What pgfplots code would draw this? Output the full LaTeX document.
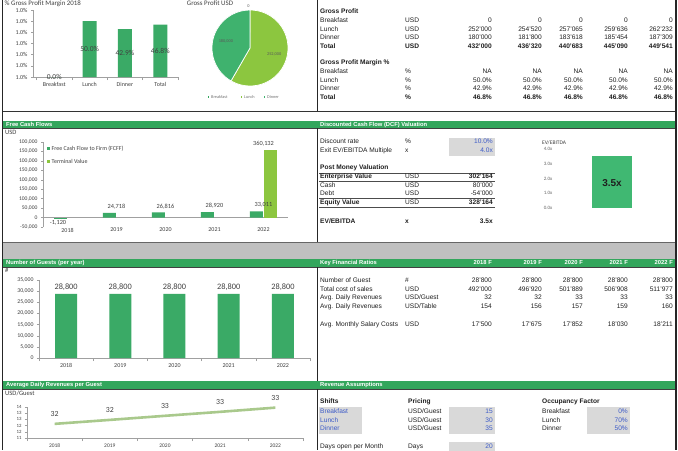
\documentclass[border=0pt]{standalone}
\usepackage{fontspec}
\setmainfont{Liberation Sans}
\newfontfamily\calfont{Carlito}
\usepackage{pgfplots}
\pgfplotsset{compat=1.18}

\definecolor{hdr}{HTML}{33A65C}
\definecolor{barg}{HTML}{3AAA66}
\definecolor{pieg}{HTML}{3FB26E}
\definecolor{lime}{HTML}{8CC63F}
\definecolor{linec}{HTML}{A9C98C}
\definecolor{evbar}{HTML}{40B872}
\definecolor{band}{HTML}{C0C0C0}
\definecolor{boxg}{HTML}{D9D9D9}
\definecolor{inblue}{HTML}{3C5AC8}
\definecolor{txt}{HTML}{1F1F1F}
\definecolor{ctxt}{HTML}{404040}
\definecolor{axc}{HTML}{A0A0A0}

\newcommand\tf{\fontsize{6.6}{7}\selectfont}
\newcommand\cf[1]{\calfont\fontsize{#1}{#1}\selectfont}

\tikzset{
 T/.style={font=\tf, text=txt, inner sep=0pt, text height=4.7pt, text depth=1.3pt},
 L/.style={T, anchor=west},
 R/.style={T, anchor=east},
 B/.style={font=\tf\bfseries},
 I/.style={text=inblue},
 H/.style={font=\fontsize{5.8}{6}\selectfont\bfseries, text=white, inner sep=0pt, text height=4.3pt, text depth=1.2pt},
 HL/.style={H, anchor=west},
 HR/.style={H, anchor=east},
 CT/.style={inner sep=0pt, text=ctxt, anchor=west, text height=4.5pt, text depth=1.2pt},
}

\newcommand\rowA[9]{%
 \node[L,#9] at (320,#1) {#2};
 \node[L,#9] at (405,#1) {#3};
 \node[R,#9] at (492,#1) {#4};
 \node[R,#9] at (542,#1) {#5};
 \node[R,#9] at (583,#1) {#6};
 \node[R,#9] at (628,#1) {#7};
 \node[R,#9] at (673,#1) {#8};}

\pgfplotsset{exc/.style={scale only axis, anchor=south west,
  axis x line=bottom, axis y line=left,
  axis line style={-, draw=axc, line width=0.5pt},
  tick style={draw=axc, line width=0.4pt}, tick align=outside,
  major tick length=2pt, minor tick length=3pt,
  ticklabel style={text=ctxt},
  y tick label style={font=\cf{5.8}}, x tick label style={font=\cf{6}},
  scaled ticks=false, clip=false}}

\def\pB{0}\def\pL{252}\def\pD{180}

\begin{document}
\begin{tikzpicture}
\begin{scope}[x=1pt,y=-1pt]
\path[use as bounding box] (0,0) rectangle (678,450);
\fill[white] (0,0) rectangle (678,450);
% bands and headers
\fill[band] (3,242) rectangle (676,259);
\fill[hdr] (3,121) rectangle (676,128);
\fill[hdr] (3,259) rectangle (676,267);
\fill[hdr] (3,381) rectangle (676,389);
\draw[black!75,line width=0.6pt] (3,128.2) -- (676,128.2);
\draw[black!75,line width=0.6pt] (3,267.2) -- (676,267.2);
\draw[black!75,line width=0.6pt] (3,389.2) -- (676,389.2);
\draw[black!80,line width=0.7pt] (3,111) -- (676,111);
\draw[black!60,line width=0.6pt] (3,242) -- (676,242);
% dividers
\draw[black!85,line width=0.6pt] (317,0) -- (317,111);
\draw[black!85,line width=0.6pt] (317,128) -- (317,242);
\draw[black!85,line width=0.6pt] (317,267) -- (317,381);
\draw[black!85,line width=0.6pt] (317,389) -- (317,450);
% borders
\draw[black!85,line width=1.8pt] (2.5,0) -- (2.5,450);
\draw[black!85,line width=1.2pt] (676,0) -- (676,450);

% header texts
\node[HL] at (6,124.5) {Free Cash Flows};
\node[HL] at (320,124.5) {Discounted Cash Flow (DCF) Valuation};
\node[HL] at (6,263) {Number of Guests (per year)};
\node[HL] at (320,263) {Key Financial Ratios};
\node[HR] at (492,263) {2018 F};
\node[HR] at (542,263) {2019 F};
\node[HR] at (583,263) {2020 F};
\node[HR] at (628,263) {2021 F};
\node[HR] at (673,263) {2022 F};
\node[HL] at (6,385) {Average Daily Revenues per Guest};
\node[HL] at (320,385) {Revenue Assumptions};

% chart titles / units
\node[CT,font=\cf{6.9}] at (4.5,4) {\% Gross Profit Margin 2018};
\node[CT,font=\cf{6.9},anchor=center] at (210,4) {Gross Profit USD};
\node[CT,font=\cf{6.6}] at (5,133) {USD};
\node[CT,font=\cf{6.6}] at (5,271) {\#};
\node[CT,font=\cf{6.6}] at (5,394) {USD/Guest};

% pie legend
\fill[hdr] (207.5,96) rectangle ++(1.8,1.8);
\node[CT,font=\cf{4.3},text=black!55] at (211,97) {Breakfast};
\fill[lime] (240.5,96) rectangle ++(1.8,1.8);
\node[CT,font=\cf{4.3},text=black!55] at (244,97) {Lunch};
\fill[pieg] (263.5,96) rectangle ++(1.8,1.8);
\node[CT,font=\cf{4.3},text=black!55] at (267,97) {Dinner};

% Gross profit table
\node[L,B] at (320,12) {Gross Profit};
\rowA{21}{Breakfast}{USD}{0}{0}{0}{0}{0}{}
\rowA{29.5}{Lunch}{USD}{252'000}{254'520}{257'065}{259'636}{262'232}{}
\rowA{38}{Dinner}{USD}{180'000}{181'800}{183'618}{185'454}{187'309}{}
\rowA{46.5}{Total}{USD}{432'000}{436'320}{440'683}{445'090}{449'541}{B}
\node[L,B] at (320,63) {Gross Profit Margin \%};
\rowA{72}{Breakfast}{\%}{NA}{NA}{NA}{NA}{NA}{}
\rowA{80.5}{Lunch}{\%}{50.0\%}{50.0\%}{50.0\%}{50.0\%}{50.0\%}{}
\rowA{89}{Dinner}{\%}{42.9\%}{42.9\%}{42.9\%}{42.9\%}{42.9\%}{}
\rowA{97.5}{Total}{\%}{46.8\%}{46.8\%}{46.8\%}{46.8\%}{46.8\%}{B}

% DCF table
\fill[boxg] (449,137.5) rectangle (495,155.5);
\node[L] at (320,142) {Discount rate};
\node[L] at (405,142) {\%};
\node[R,I] at (493,142) {10.0\%};
\node[L] at (320,151) {Exit EV/EBITDA Multiple};
\node[L] at (405,151) {x};
\node[R,I] at (493,151) {4.0x};
\node[L,B] at (320,168) {Post Money Valuation};
\draw[black!70,line width=0.5pt] (319,173) -- (495,173);
\node[L,B] at (320,177) {Enterprise Value};
\node[L] at (405,177) {USD};
\node[R,B] at (493,177) {302'164};
\draw[black!70,line width=0.5pt] (319,181.5) -- (495,181.5);
\node[L] at (320,186) {Cash};
\node[L] at (405,186) {USD};
\node[R] at (493,186) {80'000};
\node[L] at (320,194) {Debt};
\node[L] at (405,194) {USD};
\node[R] at (493,194) {-54'000};
\draw[black!70,line width=0.5pt] (319,198) -- (495,198);
\node[L,B] at (320,202.5) {Equity Value};
\node[L] at (405,202.5) {USD};
\node[R,B] at (493,202.5) {328'164};
\draw[black!70,line width=0.5pt] (319,207) -- (495,207);
\node[L,B] at (320,222) {EV/EBITDA};
\node[L,B] at (405,222) {x};
\node[R,B] at (493,222) {3.5x};
\node[CT,font=\cf{5.5}] at (542,143) {EV/EBITDA};

% Key financial ratios
\rowA{281}{Number of Guest}{\#}{28'800}{28'800}{28'800}{28'800}{28'800}{}
\rowA{289.5}{Total cost of sales}{USD}{492'000}{496'920}{501'889}{506'908}{511'977}{}
\rowA{298}{Avg. Daily Revenues}{USD/Guest}{32}{32}{33}{33}{33}{}
\rowA{306.5}{Avg. Daily Revenues}{USD/Table}{154}{156}{157}{159}{160}{}
\rowA{325}{Avg. Monthly Salary Costs}{USD}{17'500}{17'675}{17'852}{18'030}{18'211}{}

% Revenue assumptions
\fill[boxg] (319,407) rectangle (362,434);
\fill[boxg] (449,407) rectangle (495,434);
\fill[boxg] (587,407) rectangle (630,434);
\fill[boxg] (449,442) rectangle (495,453);
\node[L,B] at (320,402) {Shifts};
\node[L,B] at (408,402) {Pricing};
\node[L,B] at (542,402) {Occupancy Factor};
\node[L,I] at (320,412) {Breakfast};
\node[L,I] at (320,420.5) {Lunch};
\node[L,I] at (320,429) {Dinner};
\node[L] at (408,412) {USD/Guest};
\node[L] at (408,420.5) {USD/Guest};
\node[L] at (408,429) {USD/Guest};
\node[R,I] at (493,412) {15};
\node[R,I] at (493,420.5) {30};
\node[R,I] at (493,429) {35};
\node[L] at (542,412) {Breakfast};
\node[L] at (542,420.5) {Lunch};
\node[L] at (542,429) {Dinner};
\node[R,I] at (628,412) {0\%};
\node[R,I] at (628,420.5) {70\%};
\node[R,I] at (628,429) {50\%};
\node[L] at (320,447) {Days open per Month};
\node[L] at (408,447) {Days};
\node[R,I] at (493,447) {20};
\end{scope}

% ===== Gross profit margin bar chart
\begin{axis}[exc, at={(33pt,-77pt)}, width=145pt, height=67pt,
  xmin=-0.6, xmax=3.5, ymin=0, ymax=60,
  ytick={0,10,...,60}, yticklabels={1.0\%,1.0\%,1.0\%,1.0\%,1.0\%,1.0\%,1.0\%},
  y tick label style={font=\cf{6}},
  xtick={0,1,2,3}, xticklabels={Breakfast,Lunch,Dinner,Total},
  major x tick style={draw=none}, minor xtick={-0.5,0.5,1.5,2.5,3.5}]
\addplot[ybar, bar width=14pt, fill=barg, draw=none] coordinates {(0,0) (1,50) (2,42.9) (3,46.8)};
\addplot[draw=none, mark=none, nodes near coords, point meta=explicit symbolic,
  nodes near coords style={anchor=center, font=\cf{7.5}, text=ctxt}]
  coordinates {(0,0)[0.0\%] (1,25)[50.0\%] (2,21.45)[42.9\%] (3,23.4)[46.8\%]};
\end{axis}

% ===== Pie
\begin{axis}[hide axis, scale only axis, width=80pt, height=80pt,
  xmin=-40, xmax=40, ymin=-40, ymax=40, at={(250pt,-48pt)}, anchor=center, clip=false]
\pgfmathsetmacro\aL{\pL/(\pB+\pL+\pD)*360}
\pgfmathsetmacro\aD{\pD/(\pB+\pL+\pD)*360}
\fill[lime, draw=white, line width=0.7pt] (axis cs:0,0) -- (axis cs:0,38) arc[start angle=90, end angle={90-\aL}, radius=38pt] -- cycle;
\fill[pieg, draw=white, line width=0.7pt] (axis cs:0,0) -- ++({90-\aL}:38pt) arc[start angle={90-\aL}, end angle={90-\aL-\aD}, radius=38pt] -- cycle;
\path (axis cs:0,0) ++({90-\aL/2}:25pt) node[font=\cf{4.3}, text=black!65] {252,000};
\path (axis cs:0,0) ++({90-\aL-\aD/2}:25pt) node[font=\cf{4.3}, text=black!65] {180,000};
\path (axis cs:0,0) ++(92:42pt) node[font=\cf{4.3}, text=black!65] {0};
\end{axis}

% ===== FCF chart
\begin{axis}[exc, at={(43pt,-227pt)}, width=245pt, height=85pt,
  xmin=-0.5, xmax=4.5, ymin=-50000, ymax=400000,
  ytick={-50000,0,50000,100000,150000,200000,250000,300000,350000,400000},
  yticklabels={{-50,000},0,{50,000},{100,000},{150,000},{100,000},{150,000},{100,000},{150,000},{100,000}},
  y tick label style={font=\cf{5.6}},
  xtick={0,1,2,3,4}, xticklabels={2018,2019,2020,2021,2022},
  x tick label style={yshift=4.5pt},
  x axis line style={draw=none}, x tick style={draw=none},
  extra y ticks={0}, extra y tick labels={},
  extra y tick style={grid=major, major grid style={draw=axc, line width=0.5pt}},
  legend style={at={(0.01,0.995)}, anchor=north west, draw=none, fill=none,
    font=\cf{6}, text=ctxt, row sep=3.5pt, inner sep=1pt},
  legend cell align=left]
\addplot[ybar, bar width=13pt, bar shift=-7pt, fill=barg, draw=none,
  nodes near coords, point meta=explicit symbolic, nodes near coords align=vertical,
  every node near coord/.append style={font=\cf{6.3}, text=ctxt},
  legend image code/.code={\fill[barg] (0pt,-1.5pt) rectangle (3pt,1.5pt);}]
  coordinates {(1,24718)[24,718] (2,26816)[26,816] (3,28920)[28,920] (4,33011)[33,011]};
\addplot[ybar, bar width=13pt, bar shift=7pt, fill=lime, draw=none,
  nodes near coords, point meta=explicit symbolic, nodes near coords align=vertical,
  every node near coord/.append style={font=\cf{6.3}, text=ctxt},
  legend image code/.code={\fill[lime] (0pt,-1.5pt) rectangle (3pt,1.5pt);}]
  coordinates {(4,360132)[360,132]};
\addplot[ybar, bar width=13pt, bar shift=-7pt, fill=barg, draw=none, forget plot,
  nodes near coords, point meta=explicit symbolic,
  nodes near coords style={anchor=north, inner sep=0.5pt, yshift=-1.5pt, xshift=-9.5pt, font=\cf{6.3}, text=ctxt}]
  coordinates {(0,-1120)[-1,120]};
\legend{Free Cash Flow to Firm (FCFF), Terminal Value}
\end{axis}

% ===== EV/EBITDA mini chart
\begin{axis}[scale only axis, anchor=south west, at={(558pt,-208pt)}, width=100pt, height=59pt,
  xmin=0, xmax=2, ymin=0, ymax=4, axis x line=none, axis y line=left,
  y axis line style={draw=none}, ytick={0,1,2,3,4},
  yticklabels={0.0x,1.0x,2.0x,3.0x,4.0x}, y tick style={draw=none},
  y tick label style={font=\cf{5}, text=black!60}, clip=false]
\addplot[ybar, bar width=40pt, fill=evbar, draw=none] coordinates {(1.08,3.5)};
\addplot[draw=none, mark=none, nodes near coords, point meta=explicit symbolic,
  nodes near coords style={anchor=center, font=\fontsize{10}{10}\selectfont\bfseries, text=txt}]
  coordinates {(1.08,1.72)[3.5x]};
\end{axis}

% ===== Guests chart
\begin{axis}[exc, at={(39pt,-358pt)}, width=271pt, height=78pt,
  xmin=-0.5, xmax=4.5, ymin=0, ymax=35000,
  ytick={0,5000,10000,15000,20000,25000,30000,35000},
  yticklabels={0,{5,000},{10,000},{15,000},{20,000},{25,000},{30,000},{35,000}},
  xtick={0,1,2,3,4}, xticklabels={2018,2019,2020,2021,2022},
  major x tick style={draw=none}, minor xtick={-0.5,0.5,1.5,2.5,3.5,4.5}]
\addplot[ybar, bar width=22pt, fill=barg, draw=none,
  nodes near coords, point meta=explicit symbolic, nodes near coords align=vertical,
  every node near coord/.append style={font=\cf{8.3}, text=ctxt}]
  coordinates {(0,28800)[28,800] (1,28800)[28,800] (2,28800)[28,800] (3,28800)[28,800] (4,28800)[28,800]};
\end{axis}

% ===== Average daily revenue line
\begin{axis}[exc, at={(27pt,-438pt)}, width=276pt, height=31pt,
  xmin=-0.5, xmax=4.5, ymin=31, ymax=33.5,
  ytick={31,31.5,32,32.5,33,33.5}, yticklabels={11,12,12,13,13,14},
  y tick label style={font=\cf{4.8}},
  xtick={0,1,2,3,4}, xticklabels={2018,2019,2020,2021,2022},
  x tick label style={font=\cf{5.5}},
  major x tick style={draw=none}, minor xtick={-0.5,0.5,1.5,2.5,3.5,4.5}]
\addplot[linec, line width=2.6pt, mark=none,
  nodes near coords, point meta=explicit symbolic,
  nodes near coords style={anchor=south, yshift=2.5pt, font=\cf{7.8}, text=ctxt}]
  coordinates {(0,32.14)[32] (1,32.46)[32] (2,32.79)[33] (3,33.11)[33] (4,33.45)[33]};
\end{axis}
\end{tikzpicture}
\end{document}
